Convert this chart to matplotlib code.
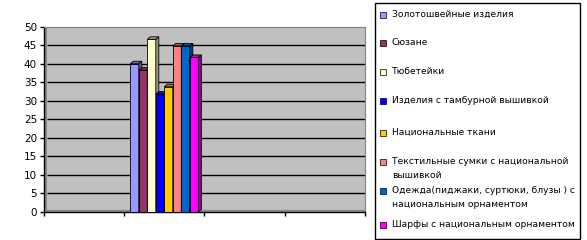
import numpy as np
import matplotlib
matplotlib.use("Agg")
import matplotlib.pyplot as plt
from matplotlib.patches import Rectangle
from matplotlib import colors as mcolors

# data
labels = [
    "Золотошвейные изделия",
    "Сюзане",
    "Тюбетейки",
    "Изделия с тамбурной вышивкой",
    "Национальные ткани",
    "Текстильные сумки с национальной\nвышивкой",
    "Одежда(пиджаки, суртюки, блузы ) с\nнациональным орнаментом",
    "Шарфы с национальным орнаментом",
]
values = [40, 38.3, 46.6, 31.8, 33.8, 44.8, 44.8, 41.7]
colors = ["#9999FF", "#993366", "#FFFFCC", "#0000FF",
          "#FFCC00", "#FF8080", "#0066CC", "#FF00FF"]
n_categories = 4
data_category = 1
yticks = list(range(0, 51, 5))

W, H = 587, 240
fig = plt.figure(figsize=(W / 100, H / 100), dpi=100)
fig.patch.set_facecolor("white")


def px(x, y):
    # pixel (from top-left) -> figure fraction
    return x / W, 1 - y / H


left, top, right, bottom = 44, 26.7, 365, 212
ax = fig.add_axes([left / W, 1 - bottom / H, (right - left) / W, (bottom - top) / H])
ax.set_facecolor("#C0C0C0")
ax.set_xlim(0, n_categories)
ax.set_ylim(0, 50)

# back wall gridlines and floor
ax.hlines(yticks[1:-1], 0.04, n_categories, color="black", lw=1, zorder=1)
ax.fill_between([0, n_categories], 0, 0.6, color="#8C8C8C", zorder=1)
ax.axvline(0.02, color="#8C8C8C", lw=1.5, zorder=1)

# 3D-looking columns
w = 0.106
x_start = data_category + 0.075
dx = 3 / 80
dy = 2.5 / 3.7
for i, (v, c) in enumerate(zip(values, colors)):
    x0 = x_start + i * w
    dark = np.array(mcolors.to_rgb(c)) * 0.6
    z = 3 + i
    ax.bar(x0, v, width=w, align="edge", color=c, edgecolor="black",
           lw=0.6, zorder=z)
    ax.fill([x0 + w, x0 + w + dx, x0 + w + dx, x0 + w],
            [0, dy, v + dy, v], facecolor=dark, edgecolor="black",
            lw=0.6, zorder=z)
    ax.fill([x0, x0 + dx, x0 + w + dx, x0 + w],
            [v, v + dy, v + dy, v], facecolor=dark * 0.9 + 0.1,
            edgecolor="black", lw=0.6, zorder=z)

ax.set_yticks(yticks)
ax.set_yticklabels([str(t) for t in yticks], fontsize=7.5)
ax.set_xticks(range(n_categories + 1))
ax.set_xticklabels([])
ax.tick_params(axis="both", direction="out", length=3, width=1, color="black", pad=2)
for s in ["top", "right"]:
    ax.spines[s].set_color("#808080")
for s in ["left", "bottom"]:
    ax.spines[s].set_color("black")
    ax.spines[s].set_linewidth(1)

# legend drawn by hand to follow the original spacing
lx0, ly0 = px(375, 239)
lx1, ly1 = px(580, 3)
fig.add_artist(Rectangle((lx0, ly0), lx1 - lx0, ly1 - ly0, transform=fig.transFigure,
                         facecolor="white", edgecolor="black", lw=1))
entry_y = [15, 43, 72, 101, 133, 162, 191, 225]
for lab, c, yy in zip(labels, colors, entry_y):
    mx, my = px(380, yy + 3)
    fig.add_artist(Rectangle((mx, my), 6 / W, 6 / H, transform=fig.transFigure,
                             facecolor=c, edgecolor="black", lw=0.5))
    tx, ty = px(392, yy - 5)
    fig.text(tx, ty, lab, fontsize=6.6, va="top", ha="left", linespacing=1.65)

fig.savefig("out.png", dpi=100)
